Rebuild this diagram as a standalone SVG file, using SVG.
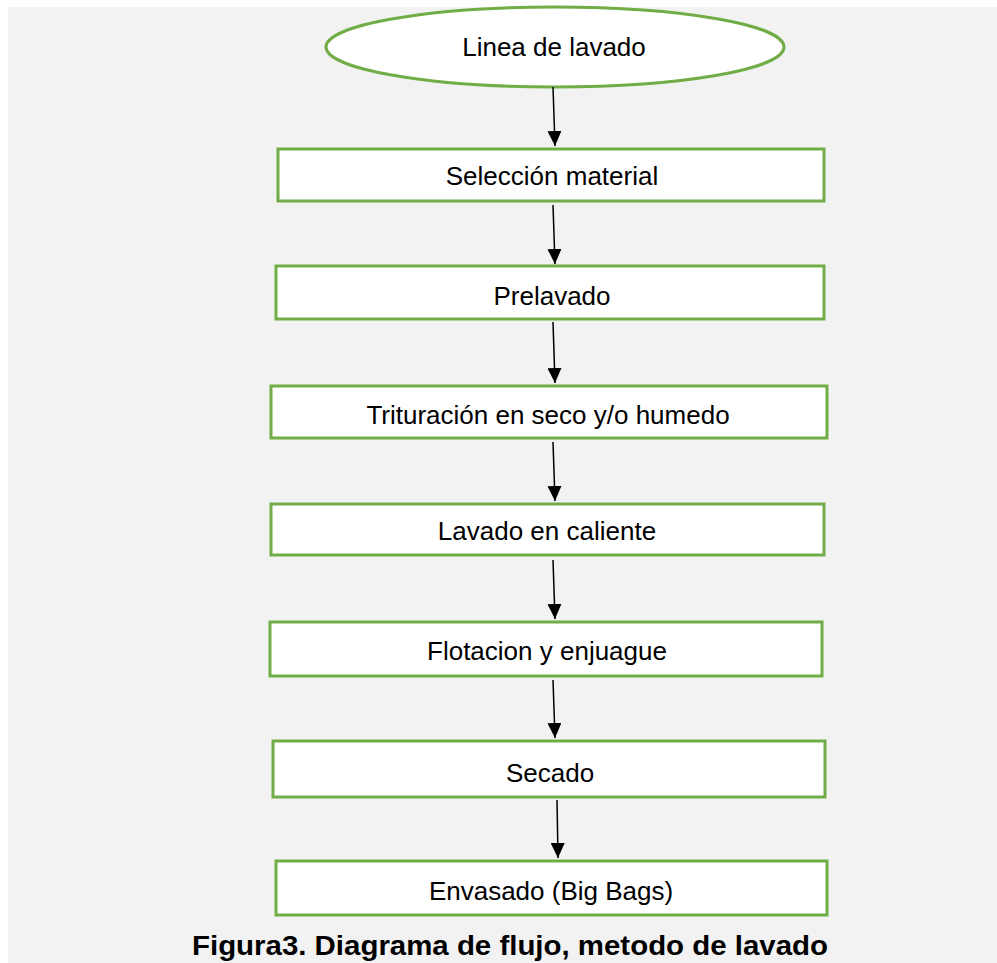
<svg xmlns="http://www.w3.org/2000/svg" width="997" height="963" viewBox="0 0 997 963">
<style>
.node{fill:#ffffff;stroke:#70ad47;stroke-width:3}
.lbl{font-family:"Liberation Sans",Arial,sans-serif;font-size:26px;fill:#000;text-anchor:middle}
.edge{stroke:#000;stroke-width:1.5;fill:none;marker-end:url(#ah)}
.cap{font-family:"Liberation Sans",Arial,sans-serif;font-size:27px;font-weight:bold;fill:#000;text-anchor:middle}
</style>
<defs>
<marker id="ah" markerWidth="15" markerHeight="14" refX="10" refY="5" orient="auto" markerUnits="userSpaceOnUse" viewBox="0 0 10 10" preserveAspectRatio="none">
<path d="M0,0 L10,5 L0,10 z" fill="#000"/>
</marker>
</defs>
<rect x="0" y="0" width="997" height="963" fill="#ffffff"/>
<rect x="8" y="7" width="989" height="956" fill="#f2f2f2"/>
<g id="n0"><ellipse class="node" cx="555" cy="47" rx="229" ry="40"/><text class="lbl" x="554" y="56">Linea de lavado</text></g>
<g id="n1"><rect class="node" x="278" y="149" width="546" height="52"/><text class="lbl" x="552" y="185">Selección material</text></g>
<g id="n2"><rect class="node" x="276" y="266" width="548" height="53"/><text class="lbl" x="552" y="305">Prelavado</text></g>
<g id="n3"><rect class="node" x="271" y="386" width="556" height="52"/><text class="lbl" x="548" y="424">Trituración en seco y/o humedo</text></g>
<g id="n4"><rect class="node" x="271" y="504" width="553" height="51"/><text class="lbl" x="547" y="540">Lavado en caliente</text></g>
<g id="n5"><rect class="node" x="270" y="622" width="552" height="54"/><text class="lbl" x="547" y="660">Flotacion y enjuague</text></g>
<g id="n6"><rect class="node" x="273" y="741" width="552" height="56"/><text class="lbl" x="550" y="782">Secado</text></g>
<g id="n7"><rect class="node" x="276" y="861" width="551" height="54"/><text class="lbl" x="551" y="900">Envasado (Big Bags)</text></g>
<g id="edges">
<line class="edge" x1="553" y1="87" x2="555" y2="146"/>
<line class="edge" x1="553" y1="205" x2="555" y2="264"/>
<line class="edge" x1="553" y1="322" x2="555" y2="383"/>
<line class="edge" x1="553" y1="442" x2="555" y2="501"/>
<line class="edge" x1="553" y1="560" x2="555" y2="619"/>
<line class="edge" x1="553" y1="680" x2="555" y2="738"/>
<line class="edge" x1="557" y1="800" x2="558" y2="858"/>
</g>
<text class="cap" x="510" y="955" textLength="636" lengthAdjust="spacingAndGlyphs">Figura3. Diagrama de flujo, metodo de lavado</text>
</svg>
